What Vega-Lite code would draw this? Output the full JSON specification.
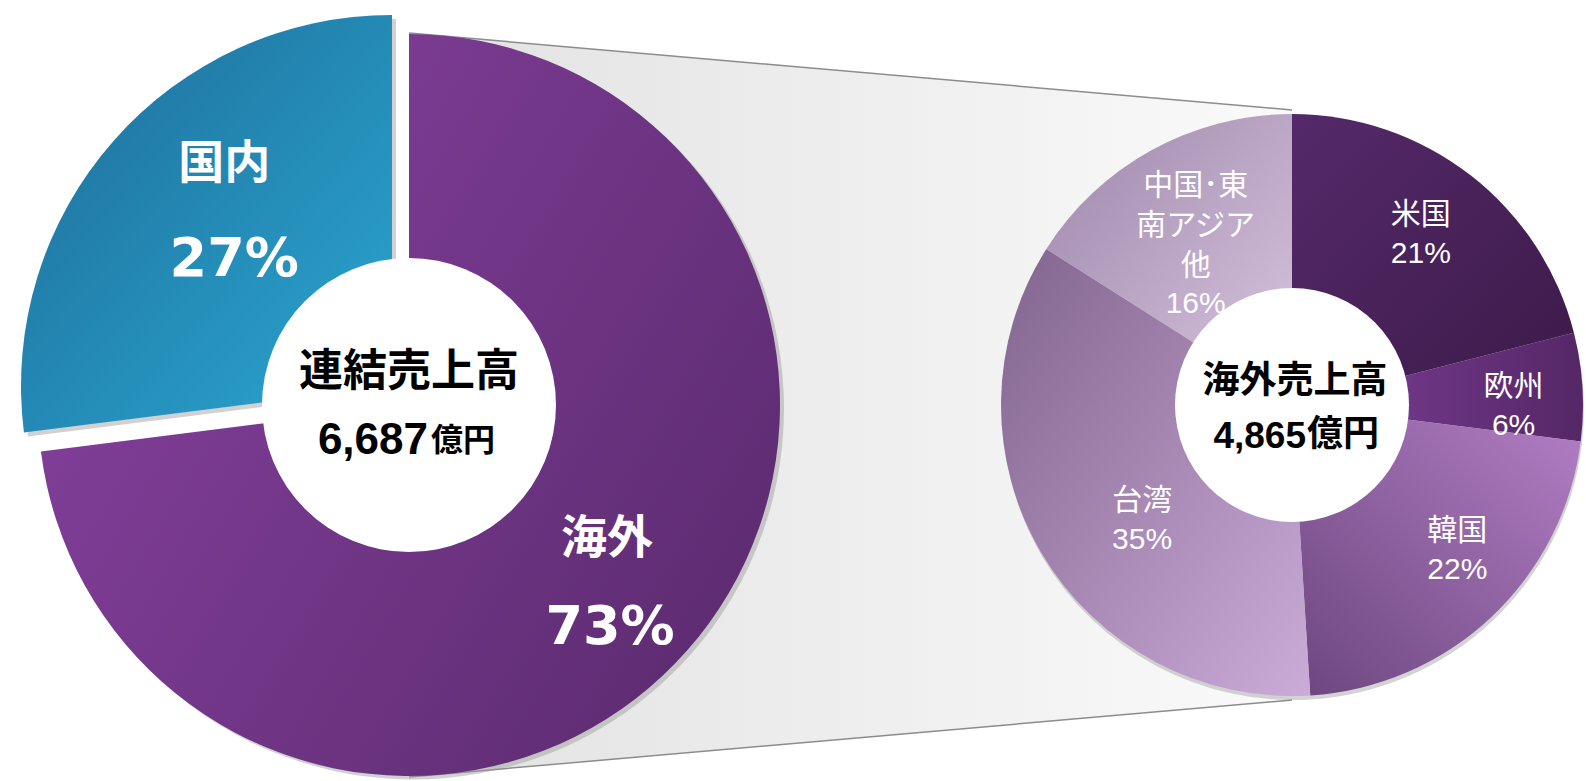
{
  "$schema": "https://vega.github.io/schema/vega-lite/v6.json",
  "width": 1586,
  "height": 781,
  "autosize": {"type": "fit", "contains": "padding"},
  "padding": 0,
  "background": "white",
  "config": {"view": {"stroke": null}, "axis": {"disable": true}},
  "datasets": {
    "連結": [
      {"区分": "連結売上高", "地域": "海外", "比率": 0.73, "順": 1},
      {"区分": "連結売上高", "地域": "国内", "比率": 0.27, "順": 2}
    ],
    "海外": [
      {"区分": "海外売上高", "地域": "米国", "比率": 0.21, "順": 1},
      {"区分": "海外売上高", "地域": "欧州", "比率": 0.06, "順": 2},
      {"区分": "海外売上高", "地域": "韓国", "比率": 0.22, "順": 3},
      {"区分": "海外売上高", "地域": "台湾", "比率": 0.35, "順": 4},
      {"区分": "海外売上高", "地域": "中国･東\n南アジア\n他", "比率": 0.16, "順": 5}
    ],
    "連結合計": [{"区分": "連結売上高", "金額": 6687, "単位": "億円"}],
    "海外合計": [{"区分": "海外売上高", "金額": 4865, "単位": "億円"}],
    "接続": [
      {"区分": "連結売上高", "上端": 33, "下端": 777},
      {"区分": "海外売上高", "上端": 110, "下端": 700}
    ]
  },
  "encoding": {
    "x": {"field": "区分", "type": "nominal", "scale": {"type": "point", "domain": ["連結売上高", "海外売上高"], "range": [409, 1292], "padding": 0}, "axis": null}
  },
  "layer": [
    {
      "data": {"name": "接続"},
      "mark": {"type": "area", "orient": "vertical", "color": {"gradient": "linear", "x1": 0, "y1": 0, "x2": 1, "y2": 0, "stops": [{"offset": 0, "color": "#e2e2e2"}, {"offset": 1, "color": "#fafafa"}]}},
      "encoding": {
        "y": {"field": "上端", "type": "quantitative", "scale": {"domain": [0, 781], "nice": false, "zero": false, "reverse": true}, "axis": null},
        "y2": {"field": "下端"}
      }
    },
    {
      "data": {"name": "接続"},
      "mark": {"type": "line", "color": "#8c8c8c", "strokeWidth": 1.5},
      "encoding": {"y": {"field": "上端", "type": "quantitative", "axis": null}}
    },
    {
      "data": {"name": "接続"},
      "mark": {"type": "line", "color": "#8c8c8c", "strokeWidth": 1.5},
      "encoding": {"y": {"field": "下端", "type": "quantitative", "axis": null}}
    },
    {
      "data": {"name": "連結"},
      "mark": {"type": "arc", "radius": 371, "xOffset": 4, "yOffset": 18, "opacity": 0.45},
      "encoding": {
        "theta": {"field": "比率", "type": "quantitative", "stack": true},
        "order": {"field": "順", "type": "quantitative"},
        "color": {"condition": {"test": "datum['地域'] === '海外'", "value": "#9a9a9a"}, "value": "transparent"}
      }
    },
    {
      "data": {"name": "連結"},
      "mark": {"type": "arc", "radius": 371, "yOffset": 14.5},
      "encoding": {
        "theta": {"field": "比率", "type": "quantitative", "stack": true},
        "order": {"field": "順", "type": "quantitative"},
        "color": {"condition": {"test": "datum['地域'] === '海外'", "value": {"gradient": "linear", "x1": 0, "y1": 0.2, "x2": 1, "y2": 0.8, "stops": [{"offset": 0, "color": "#86419e"}, {"offset": 1, "color": "#5c2b70"}]}}, "value": "transparent"}
      }
    },
    {
      "data": {"name": "連結"},
      "mark": {"type": "arc", "radius": 371, "xOffset": -13, "yOffset": -0.5, "opacity": 0.45},
      "encoding": {
        "theta": {"field": "比率", "type": "quantitative", "stack": true},
        "order": {"field": "順", "type": "quantitative"},
        "color": {"condition": {"test": "datum['地域'] === '国内'", "value": "#9a9a9a"}, "value": "transparent"}
      }
    },
    {
      "data": {"name": "連結"},
      "mark": {"type": "arc", "radius": 371, "xOffset": -17, "yOffset": -4.5},
      "encoding": {
        "theta": {"field": "比率", "type": "quantitative", "stack": true},
        "order": {"field": "順", "type": "quantitative"},
        "color": {"condition": {"test": "datum['地域'] === '国内'", "value": {"gradient": "linear", "x1": 0, "y1": 0, "x2": 1, "y2": 1, "stops": [{"offset": 0, "color": "#1e6c98"}, {"offset": 1, "color": "#2aa7d2"}]}}, "value": "transparent"}
      }
    },
    {
      "data": {"name": "海外"},
      "mark": {"type": "arc", "radius": 291, "xOffset": 1, "yOffset": 18.5, "color": "#a8a8a8", "opacity": 0.5},
      "encoding": {
        "theta": {"field": "比率", "type": "quantitative", "stack": true},
        "order": {"field": "順", "type": "quantitative"}
      }
    },
    {
      "data": {"name": "海外"},
      "mark": {"type": "arc", "radius": 291, "yOffset": 14.5},
      "encoding": {
        "theta": {"field": "比率", "type": "quantitative", "stack": true},
        "order": {"field": "順", "type": "quantitative"},
        "color": {
          "condition": [
            {"test": "datum['順'] === 1", "value": {"gradient": "linear", "x1": 0, "y1": 0, "x2": 1, "y2": 1, "stops": [{"offset": 0, "color": "#55296a"}, {"offset": 1, "color": "#3b1a48"}]}},
            {"test": "datum['順'] === 2", "value": {"gradient": "linear", "x1": 0, "y1": 0, "x2": 1, "y2": 0, "stops": [{"offset": 0, "color": "#7e3f9a"}, {"offset": 1, "color": "#552766"}]}},
            {"test": "datum['順'] === 3", "value": {"gradient": "linear", "x1": 1, "y1": 0, "x2": 0, "y2": 1, "stops": [{"offset": 0, "color": "#b37fc5"}, {"offset": 1, "color": "#6c467e"}]}},
            {"test": "datum['順'] === 4", "value": {"gradient": "linear", "x1": 0, "y1": 0, "x2": 1, "y2": 1, "stops": [{"offset": 0, "color": "#82658f"}, {"offset": 1, "color": "#cbabd8"}]}}
          ],
          "value": {"gradient": "linear", "x1": 0, "y1": 0, "x2": 1, "y2": 1, "stops": [{"offset": 0, "color": "#9e86aa"}, {"offset": 1, "color": "#d9c7e1"}]}
        }
      }
    },
    {
      "data": {"name": "海外"},
      "mark": {"type": "text", "radius": 202, "xOffset": 5, "yOffset": 5.5, "dy": -6, "font": "Liberation Sans, Noto Sans CJK JP", "fontSize": 30, "color": "white", "baseline": "bottom"},
      "encoding": {
        "theta": {"field": "比率", "type": "quantitative", "stack": true},
        "order": {"field": "順", "type": "quantitative"},
        "text": {"condition": {"test": "datum['順'] === 1", "field": "地域"}, "value": ""}
      }
    },
    {
      "data": {"name": "海外"},
      "mark": {"type": "text", "radius": 202, "xOffset": 5, "yOffset": 5.5, "dy": 3, "font": "Liberation Sans, Noto Sans CJK JP", "fontSize": 30, "color": "white", "baseline": "top"},
      "encoding": {
        "theta": {"field": "比率", "type": "quantitative", "stack": true},
        "order": {"field": "順", "type": "quantitative"},
        "text": {"condition": {"test": "datum['順'] === 1", "field": "比率", "type": "quantitative", "format": ".0%"}, "value": ""}
      }
    },
    {
      "data": {"name": "海外"},
      "mark": {"type": "text", "radius": 202, "xOffset": 20, "yOffset": 30.5, "dy": -6, "font": "Liberation Sans, Noto Sans CJK JP", "fontSize": 30, "color": "white", "baseline": "bottom"},
      "encoding": {
        "theta": {"field": "比率", "type": "quantitative", "stack": true},
        "order": {"field": "順", "type": "quantitative"},
        "text": {"condition": {"test": "datum['順'] === 2", "field": "地域"}, "value": ""}
      }
    },
    {
      "data": {"name": "海外"},
      "mark": {"type": "text", "radius": 202, "xOffset": 20, "yOffset": 30.5, "dy": 3, "font": "Liberation Sans, Noto Sans CJK JP", "fontSize": 30, "color": "white", "baseline": "top"},
      "encoding": {
        "theta": {"field": "比率", "type": "quantitative", "stack": true},
        "order": {"field": "順", "type": "quantitative"},
        "text": {"condition": {"test": "datum['順'] === 2", "field": "比率", "type": "quantitative", "format": ".0%"}, "value": ""}
      }
    },
    {
      "data": {"name": "海外"},
      "mark": {"type": "text", "radius": 202, "xOffset": 27, "yOffset": 14.5, "dy": -6, "font": "Liberation Sans, Noto Sans CJK JP", "fontSize": 30, "color": "white", "baseline": "bottom"},
      "encoding": {
        "theta": {"field": "比率", "type": "quantitative", "stack": true},
        "order": {"field": "順", "type": "quantitative"},
        "text": {"condition": {"test": "datum['順'] === 3", "field": "地域"}, "value": ""}
      }
    },
    {
      "data": {"name": "海外"},
      "mark": {"type": "text", "radius": 202, "xOffset": 27, "yOffset": 14.5, "dy": 3, "font": "Liberation Sans, Noto Sans CJK JP", "fontSize": 30, "color": "white", "baseline": "top"},
      "encoding": {
        "theta": {"field": "比率", "type": "quantitative", "stack": true},
        "order": {"field": "順", "type": "quantitative"},
        "text": {"condition": {"test": "datum['順'] === 3", "field": "比率", "type": "quantitative", "format": ".0%"}, "value": ""}
      }
    },
    {
      "data": {"name": "海外"},
      "mark": {"type": "text", "radius": 202, "xOffset": 24, "yOffset": 28.5, "dy": -6, "font": "Liberation Sans, Noto Sans CJK JP", "fontSize": 30, "color": "white", "baseline": "bottom"},
      "encoding": {
        "theta": {"field": "比率", "type": "quantitative", "stack": true},
        "order": {"field": "順", "type": "quantitative"},
        "text": {"condition": {"test": "datum['順'] === 4", "field": "地域"}, "value": ""}
      }
    },
    {
      "data": {"name": "海外"},
      "mark": {"type": "text", "radius": 202, "xOffset": 24, "yOffset": 28.5, "dy": 3, "font": "Liberation Sans, Noto Sans CJK JP", "fontSize": 30, "color": "white", "baseline": "top"},
      "encoding": {
        "theta": {"field": "比率", "type": "quantitative", "stack": true},
        "order": {"field": "順", "type": "quantitative"},
        "text": {"condition": {"test": "datum['順'] === 4", "field": "比率", "type": "quantitative", "format": ".0%"}, "value": ""}
      }
    },
    {
      "data": {"name": "海外"},
      "mark": {"type": "text", "radius": 202, "xOffset": 1, "yOffset": 17.5, "dy": -30, "font": "Liberation Sans, Noto Sans CJK JP", "fontSize": 30, "color": "white", "baseline": "bottom", "lineBreak": "\n", "lineHeight": 40},
      "encoding": {
        "theta": {"field": "比率", "type": "quantitative", "stack": true},
        "order": {"field": "順", "type": "quantitative"},
        "text": {"condition": {"test": "datum['順'] === 5", "field": "地域"}, "value": ""}
      }
    },
    {
      "data": {"name": "海外"},
      "mark": {"type": "text", "radius": 202, "xOffset": 1, "yOffset": 17.5, "dy": 58, "font": "Liberation Sans, Noto Sans CJK JP", "fontSize": 30, "color": "white", "baseline": "top"},
      "encoding": {
        "theta": {"field": "比率", "type": "quantitative", "stack": true},
        "order": {"field": "順", "type": "quantitative"},
        "text": {"condition": {"test": "datum['順'] === 5", "field": "比率", "type": "quantitative", "format": ".0%"}, "value": ""}
      }
    },
    {
      "data": {"name": "連結合計"},
      "mark": {"type": "arc", "radius": 147, "theta": 0, "theta2": 6.2832, "color": "white", "yOffset": 14.5},
      "encoding": {}
    },
    {
      "data": {"name": "海外合計"},
      "mark": {"type": "arc", "radius": 117, "theta": 0, "theta2": 6.2832, "color": "white", "yOffset": 14.5},
      "encoding": {}
    },
    {
      "data": {"name": "連結合計"},
      "mark": {"type": "text", "font": "Noto Sans CJK JP", "fontWeight": "bold", "fontSize": 44, "color": "#000000", "baseline": "middle", "dy": -32, "yOffset": 14.5},
      "encoding": {"text": {"field": "区分"}}
    },
    {
      "data": {"name": "連結合計"},
      "mark": {"type": "text", "font": "Liberation Sans", "fontWeight": "bold", "fontSize": 44, "color": "#000000", "align": "right", "baseline": "alphabetic", "dx": 19, "dy": 49, "yOffset": 14.5},
      "encoding": {"text": {"field": "金額", "type": "quantitative", "format": ",d"}}
    },
    {
      "data": {"name": "連結合計"},
      "mark": {"type": "text", "font": "Noto Sans CJK JP", "fontWeight": "bold", "fontSize": 32, "color": "#000000", "align": "left", "baseline": "alphabetic", "dx": 22, "dy": 46, "yOffset": 14.5},
      "encoding": {"text": {"field": "単位"}}
    },
    {
      "data": {"name": "海外合計"},
      "mark": {"type": "text", "font": "Noto Sans CJK JP", "fontWeight": "bold", "fontSize": 37, "color": "#000000", "baseline": "middle", "dx": 3, "dy": -23, "yOffset": 14.5},
      "encoding": {"text": {"field": "区分"}}
    },
    {
      "data": {"name": "海外合計"},
      "mark": {"type": "text", "font": "Liberation Sans", "fontWeight": "bold", "fontSize": 37, "color": "#000000", "align": "right", "baseline": "alphabetic", "dx": 14, "dy": 43, "yOffset": 14.5},
      "encoding": {"text": {"field": "金額", "type": "quantitative", "format": ",d"}}
    },
    {
      "data": {"name": "海外合計"},
      "mark": {"type": "text", "font": "Noto Sans CJK JP", "fontWeight": "bold", "fontSize": 36, "color": "#000000", "align": "left", "baseline": "alphabetic", "dx": 15, "dy": 41, "yOffset": 14.5},
      "encoding": {"text": {"field": "単位"}}
    },
    {
      "data": {"name": "連結"},
      "mark": {"type": "text", "radius": 268, "xOffset": -3, "yOffset": 14.5, "dy": -43, "font": "Noto Sans CJK JP", "fontWeight": "bold", "fontSize": 46, "color": "white", "baseline": "middle"},
      "encoding": {
        "theta": {"field": "比率", "type": "quantitative", "stack": true},
        "order": {"field": "順", "type": "quantitative"},
        "text": {"condition": {"test": "datum['地域'] === '海外'", "field": "地域"}, "value": ""}
      }
    },
    {
      "data": {"name": "連結"},
      "mark": {"type": "text", "radius": 268, "yOffset": 14.5, "dy": 46, "font": "DejaVu Sans", "fontWeight": "bold", "fontSize": 54, "color": "white", "baseline": "middle"},
      "encoding": {
        "theta": {"field": "比率", "type": "quantitative", "stack": true},
        "order": {"field": "順", "type": "quantitative"},
        "text": {"condition": {"test": "datum['地域'] === '海外'", "field": "比率", "type": "quantitative", "format": ".0%"}, "value": ""}
      }
    },
    {
      "data": {"name": "連結"},
      "mark": {"type": "text", "radius": 237, "xOffset": -7, "yOffset": -22.5, "dy": -47, "font": "Noto Sans CJK JP", "fontWeight": "bold", "fontSize": 46, "color": "white", "baseline": "middle"},
      "encoding": {
        "theta": {"field": "比率", "type": "quantitative", "stack": true},
        "order": {"field": "順", "type": "quantitative"},
        "text": {"condition": {"test": "datum['地域'] === '国内'", "field": "地域"}, "value": ""}
      }
    },
    {
      "data": {"name": "連結"},
      "mark": {"type": "text", "radius": 237, "xOffset": 3, "yOffset": -22.5, "dy": 49, "font": "DejaVu Sans", "fontWeight": "bold", "fontSize": 54, "color": "white", "baseline": "middle"},
      "encoding": {
        "theta": {"field": "比率", "type": "quantitative", "stack": true},
        "order": {"field": "順", "type": "quantitative"},
        "text": {"condition": {"test": "datum['地域'] === '国内'", "field": "比率", "type": "quantitative", "format": ".0%"}, "value": ""}
      }
    }
  ]
}
